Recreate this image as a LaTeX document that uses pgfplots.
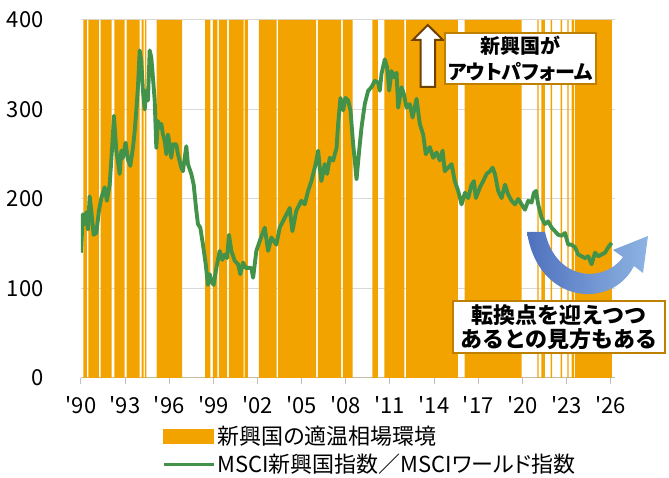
\documentclass[border=0pt]{standalone}
\usepackage{pgfplots}
\pgfplotsset{compat=1.18}
\usepackage{fontspec}
\setmainfont{Noto Sans CJK JP}
\newfontfamily\paltfont{Noto Sans CJK JP}[RawFeature=+palt]
\definecolor{bandorange}{RGB}{243,163,0}
\definecolor{linegreen}{RGB}{67,146,73}
\definecolor{gridgray}{RGB}{217,217,217}
\definecolor{axisgray}{RGB}{191,191,191}
\definecolor{boxedge}{RGB}{191,128,0}
\definecolor{arrowedge}{RGB}{110,65,0}
\definecolor{blueA}{RGB}{79,113,190}
\definecolor{blueB}{RGB}{141,180,226}
\begin{document}
\begin{tikzpicture}
\path[use as bounding box] (0,0) rectangle (501.75pt,358.5pt);
\begin{axis}[
  at={(60.75pt,75pt)}, anchor=south west,
  scale only axis, width=400.5pt, height=268.5pt,
  xmin=1990, xmax=2026.3, ymin=0, ymax=400,
  xtick={1990,1993,1996,1999,2002,2005,2008,2011,2014,2017,2020,2023,2026},
  xticklabels={\textquotesingle90,\textquotesingle93,\textquotesingle96,\textquotesingle99,\textquotesingle02,\textquotesingle05,\textquotesingle08,\textquotesingle11,\textquotesingle14,\textquotesingle17,\textquotesingle20,\textquotesingle23,\textquotesingle26},
  ytick={0,100,200,300,400},
  axis x line*=bottom, axis y line*=left,
  x axis line style={draw=axisgray, line width=0.75pt, -},
  y axis line style={draw=none},
  xtick style={draw=axisgray, line width=0.75pt},
  ytick style={draw=none},
  tick align=outside, major tick length=4.5pt,
  ymajorgrids, grid style={gridgray, line width=0.75pt},
  tick label style={font=\fontsize{16.5}{18}\selectfont},
  /pgf/number format/assume math mode=true,
  yticklabel style={xshift=-20pt},
  xticklabel style={yshift=-6pt},
  legend cell align=left,
  legend style={at={(0.144,-0.12)}, anchor=north west, draw=none, fill=none,
    font=\paltfont\fontsize{16.5}{18}\selectfont, row sep=3pt, nodes={inner sep=1.5pt}},
]
\addplot[const plot, fill=bandorange, draw=none, forget plot] coordinates {
(1990.16,400) (1990.40,0)
(1990.50,400) (1991.22,0)
(1991.33,400) (1992.08,0)
(1992.27,400) (1992.97,0)
(1993.10,400) (1993.99,0)
(1994.12,400) (1994.26,0)
(1994.35,400) (1994.44,0)
(1995.14,400) (1996.88,0)
(1998.44,400) (1998.80,0)
(1998.97,400) (1999.27,0)
(1999.38,400) (1999.94,0)
(2000.05,400) (2001.06,0)
(2001.13,400) (2001.35,0)
(2002.10,400) (2003.29,0)
(2003.40,400) (2005.99,0)
(2006.10,400) (2007.69,0)
(2007.80,400) (2008.46,0)
(2009.80,400) (2010.18,0)
(2010.63,400) (2011.98,0)
(2012.10,400) (2015.62,0)
(2016.08,400) (2019.96,0)
(2021.03,400) (2021.10,0)
(2021.29,400) (2021.54,0)
(2021.93,400) (2022.03,0)
(2022.61,400) (2022.70,0)
(2023.06,400) (2023.15,0)
(2023.35,400) (2023.51,0)
(2023.58,400) (2026.08,0)
} \closedcycle;
\addplot[linegreen, line width=2.9pt, line join=round, forget plot] coordinates {
(1990.00,140) (1990.13,183) (1990.24,172) (1990.36,185) (1990.47,166) (1990.59,203) (1990.70,187) (1990.86,160) (1991.04,162) (1991.22,187) (1991.38,201) (1991.61,213) (1991.76,198) (1991.95,216) (1992.13,261) (1992.24,293) (1992.40,254) (1992.63,228) (1992.74,254) (1992.85,246) (1993.03,263) (1993.19,244) (1993.35,237) (1993.53,257) (1993.65,276) (1993.76,299) (1993.87,325) (1993.99,366) (1994.10,354) (1994.21,321) (1994.33,300) (1994.44,321) (1994.55,310) (1994.67,366) (1994.78,358) (1994.89,336) (1995.01,310) (1995.12,257) (1995.23,287) (1995.35,280) (1995.46,284) (1995.57,272) (1995.69,265) (1995.80,250) (1995.91,272) (1996.03,261) (1996.14,246) (1996.25,261) (1996.48,261) (1996.59,250) (1996.82,235) (1996.93,231) (1997.05,246) (1997.16,259) (1997.27,239) (1997.50,228) (1997.66,216) (1997.84,187) (1997.95,172) (1998.11,168) (1998.29,149) (1998.48,127) (1998.63,104) (1998.75,116) (1998.86,108) (1999.02,104) (1999.20,123) (1999.43,142) (1999.61,132) (1999.77,138) (1999.93,134) (2000.06,160) (2000.22,142) (2000.45,131) (2000.68,127) (2000.83,116) (2001.02,129) (2001.20,123) (2001.36,123) (2001.58,123) (2001.70,112) (2001.81,127) (2001.92,142) (2002.15,153) (2002.49,168) (2002.72,142) (2002.94,157) (2003.28,149) (2003.51,168) (2003.85,179) (2004.19,190) (2004.37,164) (2004.64,187) (2004.98,198) (2005.21,194) (2005.44,209) (2005.66,220) (2005.89,235) (2006.00,243) (2006.12,254) (2006.23,235) (2006.34,220) (2006.57,239) (2006.73,228) (2006.91,246) (2007.14,243) (2007.37,257) (2007.48,284) (2007.64,313) (2007.82,299) (2007.98,313) (2008.16,310) (2008.32,299) (2008.50,261) (2008.61,243) (2008.73,222) (2008.91,254) (2009.07,280) (2009.29,306) (2009.52,321) (2009.75,325) (2009.97,332) (2010.20,330) (2010.31,321) (2010.43,340) (2010.65,356) (2010.81,347) (2010.95,321) (2011.11,343) (2011.27,336) (2011.45,341) (2011.56,302) (2011.79,325) (2011.95,317) (2012.13,302) (2012.35,306) (2012.54,291) (2012.81,312) (2013.03,284) (2013.26,272) (2013.44,250) (2013.71,258) (2013.94,246) (2014.17,252) (2014.39,243) (2014.58,254) (2014.73,231) (2014.96,235) (2015.19,239) (2015.41,220) (2015.64,209) (2015.87,194) (2016.10,207) (2016.32,201) (2016.55,216) (2016.71,220) (2016.84,201) (2017.12,213) (2017.34,220) (2017.57,228) (2017.80,231) (2017.98,235) (2018.14,228) (2018.36,209) (2018.59,201) (2018.82,216) (2019.04,205) (2019.27,198) (2019.50,194) (2019.72,200) (2019.95,194) (2020.18,188) (2020.40,198) (2020.63,196) (2020.79,207) (2020.93,209) (2021.08,194) (2021.31,179) (2021.54,172) (2021.76,175) (2021.99,168) (2022.22,164) (2022.44,160) (2022.67,159) (2022.90,162) (2023.12,149) (2023.35,149) (2023.58,146) (2023.80,138) (2024.03,136) (2024.26,134) (2024.48,136) (2024.71,127) (2024.94,140) (2025.17,136) (2025.39,138) (2025.62,140) (2025.84,146) (2026.07,151)
};
\addlegendimage{legend image code/.code={\fill[bandorange] (0pt,-5pt) rectangle (37.5pt,5pt);}}
\addlegendentry{新興国の適温相場環境}
\addlegendimage{legend image code/.code={\draw[linegreen, line width=2.4pt] (0pt,0pt) -- (37.5pt,0pt);}}
\addlegendentry{MSCI新興国指数／MSCIワールド指数}
\end{axis}
\begin{scope}[x=0.75pt, y=-0.75pt, yshift=358.5pt]
  % up arrow
  \draw[arrowedge, line width=1.5pt, fill=white, line join=miter]
    (427.8,25) -- (443,40) -- (435,40) -- (435,87) -- (420.7,87) -- (420.7,40) -- (412.7,40) -- cycle;
  % box 1
  \node[draw=boxedge, line width=1.5pt, fill=white, minimum width=113.25pt, minimum height=38.25pt,
        inner sep=0pt, align=center, font=\paltfont\bfseries\fontsize{15}{19}\selectfont]
        at (520.5,58.5) {新興国が\\アウトパフォーム};
  % curved arrow
  \shade[left color=blueA, right color=blueB]
    (527,232) .. controls (538,305) and (612,310) .. (634,266)
    -- (643,273) -- (648,236) -- (613,250) -- (623,257)
    .. controls (605,283) and (556,282) .. (545,232) -- cycle;
  % box 2
  \node[draw=boxedge, line width=1.5pt, fill=white, minimum width=159pt, minimum height=39pt,
        inner sep=0pt, align=center, font=\bfseries\fontsize{16.5}{18}\selectfont]
        at (559,327) {転換点を迎えつつ\\あるとの見方もある};
\end{scope}
\end{tikzpicture}
\end{document}
